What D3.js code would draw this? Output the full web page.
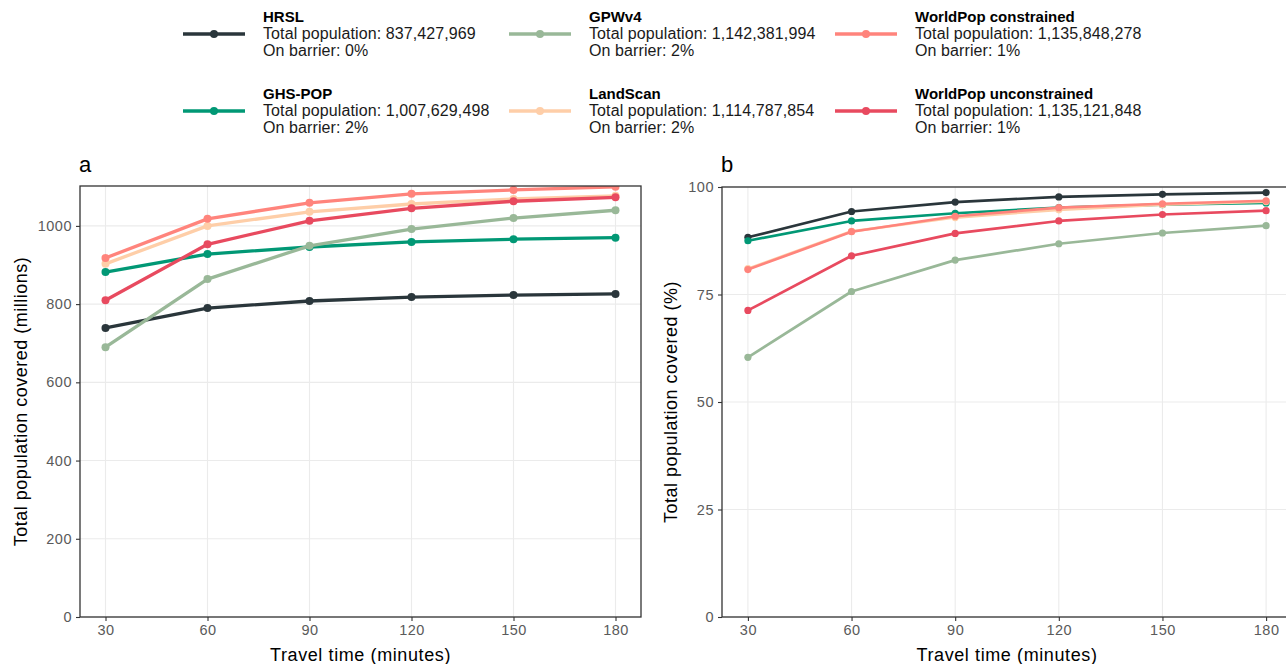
<!DOCTYPE html>
<html><head><meta charset="utf-8">
<script src="https://cdn.jsdelivr.net/npm/d3@7"></script>
<style>
body{margin:0;background:#fff;}
text{font-family:"Liberation Sans",Arial,Helvetica,sans-serif;}
</style></head>
<body><svg id="chart" width="1286" height="664"></svg>
<script>
const travelTimes = [30, 60, 90, 120, 150, 180];
const datasets = ["HRSL", "GHS-POP", "GPWv4", "LandScan", "WorldPop constrained", "WorldPop unconstrained"];
const colors = ["#2A363B", "#019875", "#99B898", "#FECEA8", "#FF847C", "#E84A5F"];
const totalPopulation = ["837,427,969", "1,007,629,498", "1,142,381,994", "1,114,787,854", "1,135,848,278", "1,135,121,848"];
const onBarrier = ["0%", "2%", "2%", "2%", "1%", "1%"];
// panel a: millions covered
const millionsHRSL = [739, 790, 808, 818, 823, 826];
const millionsGHS = [882, 928, 946, 959, 966, 970];
const millionsGPW = [690, 864, 949, 992, 1020, 1040];
const millionsLandScan = [903, 1000, 1036, 1056, 1069, 1077];
const millionsWPc = [918, 1018, 1059, 1082, 1092, 1100];
const millionsWPu = [810, 953, 1013, 1045, 1063, 1073];
// panel b: percent covered
const pctHRSL = [88.3, 94.3, 96.5, 97.7, 98.3, 98.7];
const pctGHS = [87.5, 92.1, 93.9, 95.2, 95.9, 96.3];
const pctGPW = [60.4, 75.7, 83.0, 86.8, 89.3, 91.0];
const pctLandScan = [81.0, 89.7, 92.9, 94.7, 95.9, 96.6];
const pctWPc = [80.8, 89.6, 93.2, 95.2, 96.1, 96.8];
const pctWPu = [71.3, 84.0, 89.2, 92.1, 93.6, 94.5];
const yTicksA = [0, 200, 400, 600, 800, 1000];
const yTicksB = [0, 25, 50, 75, 100];

const millions = [millionsHRSL, millionsGHS, millionsGPW, millionsLandScan, millionsWPc, millionsWPu];
const pct = [pctHRSL, pctGHS, pctGPW, pctLandScan, pctWPc, pctWPu];

const svg = d3.select("#chart");

function panel(cfg) {
  const {left, right, top, bottom, yDomain, yTicks, series, label, lw, r, clipId, yTitle, yTitleX} = cfg;
  const x = d3.scaleLinear().domain([22.5, 187.5]).range([left, right]);
  const y = d3.scaleLinear().domain(yDomain).range([bottom, top]);
  const g = svg.append("g");
  g.append("clipPath").attr("id", clipId).append("rect")
    .attr("x", left).attr("y", top).attr("width", right - left).attr("height", bottom - top);
  // grid
  g.selectAll(".gx").data(travelTimes).join("line")
    .attr("x1", d => x(d)).attr("x2", d => x(d)).attr("y1", top).attr("y2", bottom)
    .attr("stroke", "#ebebeb").attr("stroke-width", 1.1);
  g.selectAll(".gy").data(yTicks).join("line")
    .attr("x1", left).attr("x2", right).attr("y1", d => y(d)).attr("y2", d => y(d))
    .attr("stroke", "#ebebeb").attr("stroke-width", 1.1);
  // series
  const line = d3.line().x((d, i) => x(travelTimes[i])).y(d => y(d));
  const sg = g.append("g").attr("clip-path", `url(#${clipId})`);
  series.forEach((vals, k) => {
    const s = sg.append("g");
    s.append("path").attr("d", line(vals)).attr("fill", "none")
      .attr("stroke", colors[k]).attr("stroke-width", lw).attr("stroke-linejoin", "round");
    s.selectAll("circle").data(vals).join("circle")
      .attr("cx", (d, i) => x(travelTimes[i])).attr("cy", d => y(d)).attr("r", r)
      .attr("fill", colors[k]);
  });
  // border
  g.append("rect").attr("x", left).attr("y", top).attr("width", right - left).attr("height", bottom - top)
    .attr("fill", "none").attr("stroke", "#333").attr("stroke-width", 1.3);
  // axes
  const ax = g.append("g").attr("transform", `translate(0,${bottom})`)
    .call(d3.axisBottom(x).tickValues(travelTimes).tickFormat(d3.format("d")).tickSize(4).tickPadding(4));
  const ay = g.append("g").attr("transform", `translate(${left},0)`)
    .call(d3.axisLeft(y).tickValues(yTicks).tickFormat(d3.format("d")).tickSize(4).tickPadding(4));
  [ax, ay].forEach(a => {
    a.select(".domain").remove();
    a.selectAll("line").attr("stroke", "#333").attr("stroke-width", 1.1);
    a.selectAll("text").attr("fill", "#5a5a5a").attr("font-size", 14.5).attr("letter-spacing", 0.5)
      .attr("font-family", "Liberation Sans, Arial, sans-serif");
  });
  // titles
  g.append("text").attr("x", (left + right) / 2).attr("y", 661).attr("text-anchor", "middle")
    .attr("font-size", 18).attr("letter-spacing", 0.6).attr("fill", "#000").text("Travel time (minutes)");
  g.append("text").attr("transform", `translate(${yTitleX},${(top + bottom) / 2}) rotate(-90)`)
    .attr("text-anchor", "middle").attr("font-size", 18).attr("letter-spacing", 0.5).attr("fill", "#000").text(yTitle);
  g.append("text").attr("x", left - 1).attr("y", 172).attr("font-size", 22).attr("fill", "#000").text(label);
}

panel({left: 80, right: 641, top: 186, bottom: 617, yDomain: [0, 1102], yTicks: yTicksA,
  series: millions, label: "a", lw: 3.3, r: 4, clipId: "clipA", yTitle: "Total population covered (millions)", yTitleX: 27});
panel({left: 722, right: 1292, top: 187, bottom: 617, yDomain: [0, 100], yTicks: yTicksB,
  series: pct, label: "b", lw: 2.7, r: 3.6, clipId: "clipB", yTitle: "Total population covered (%)", yTitleX: 677});

// legend
const legX = [183, 509, 835];
const legY = [34, 111];
const leg = svg.append("g");
datasets.forEach((name, k) => {
  const col = Math.floor(k / 2), row = k % 2;
  const lx = legX[col], ly = legY[row];
  const g = leg.append("g");
  g.append("line").attr("x1", lx).attr("x2", lx + 62).attr("y1", ly).attr("y2", ly)
    .attr("stroke", colors[k]).attr("stroke-width", 3.6);
  g.append("circle").attr("cx", lx + 31).attr("cy", ly).attr("r", 4).attr("fill", colors[k]);
  const tx = lx + 80;
  g.append("text").attr("x", tx).attr("y", ly - 12).attr("font-size", 15).attr("font-weight", "bold").attr("fill", "#000").text(name);
  g.append("text").attr("x", tx).attr("y", ly + 5).attr("font-size", 16).attr("letter-spacing", 0.1).attr("fill", "#1a1a1a").text("Total population: " + totalPopulation[k]);
  g.append("text").attr("x", tx).attr("y", ly + 22).attr("font-size", 16).attr("letter-spacing", 0.1).attr("fill", "#1a1a1a").text("On barrier: " + onBarrier[k]);
});
</script></body></html>
